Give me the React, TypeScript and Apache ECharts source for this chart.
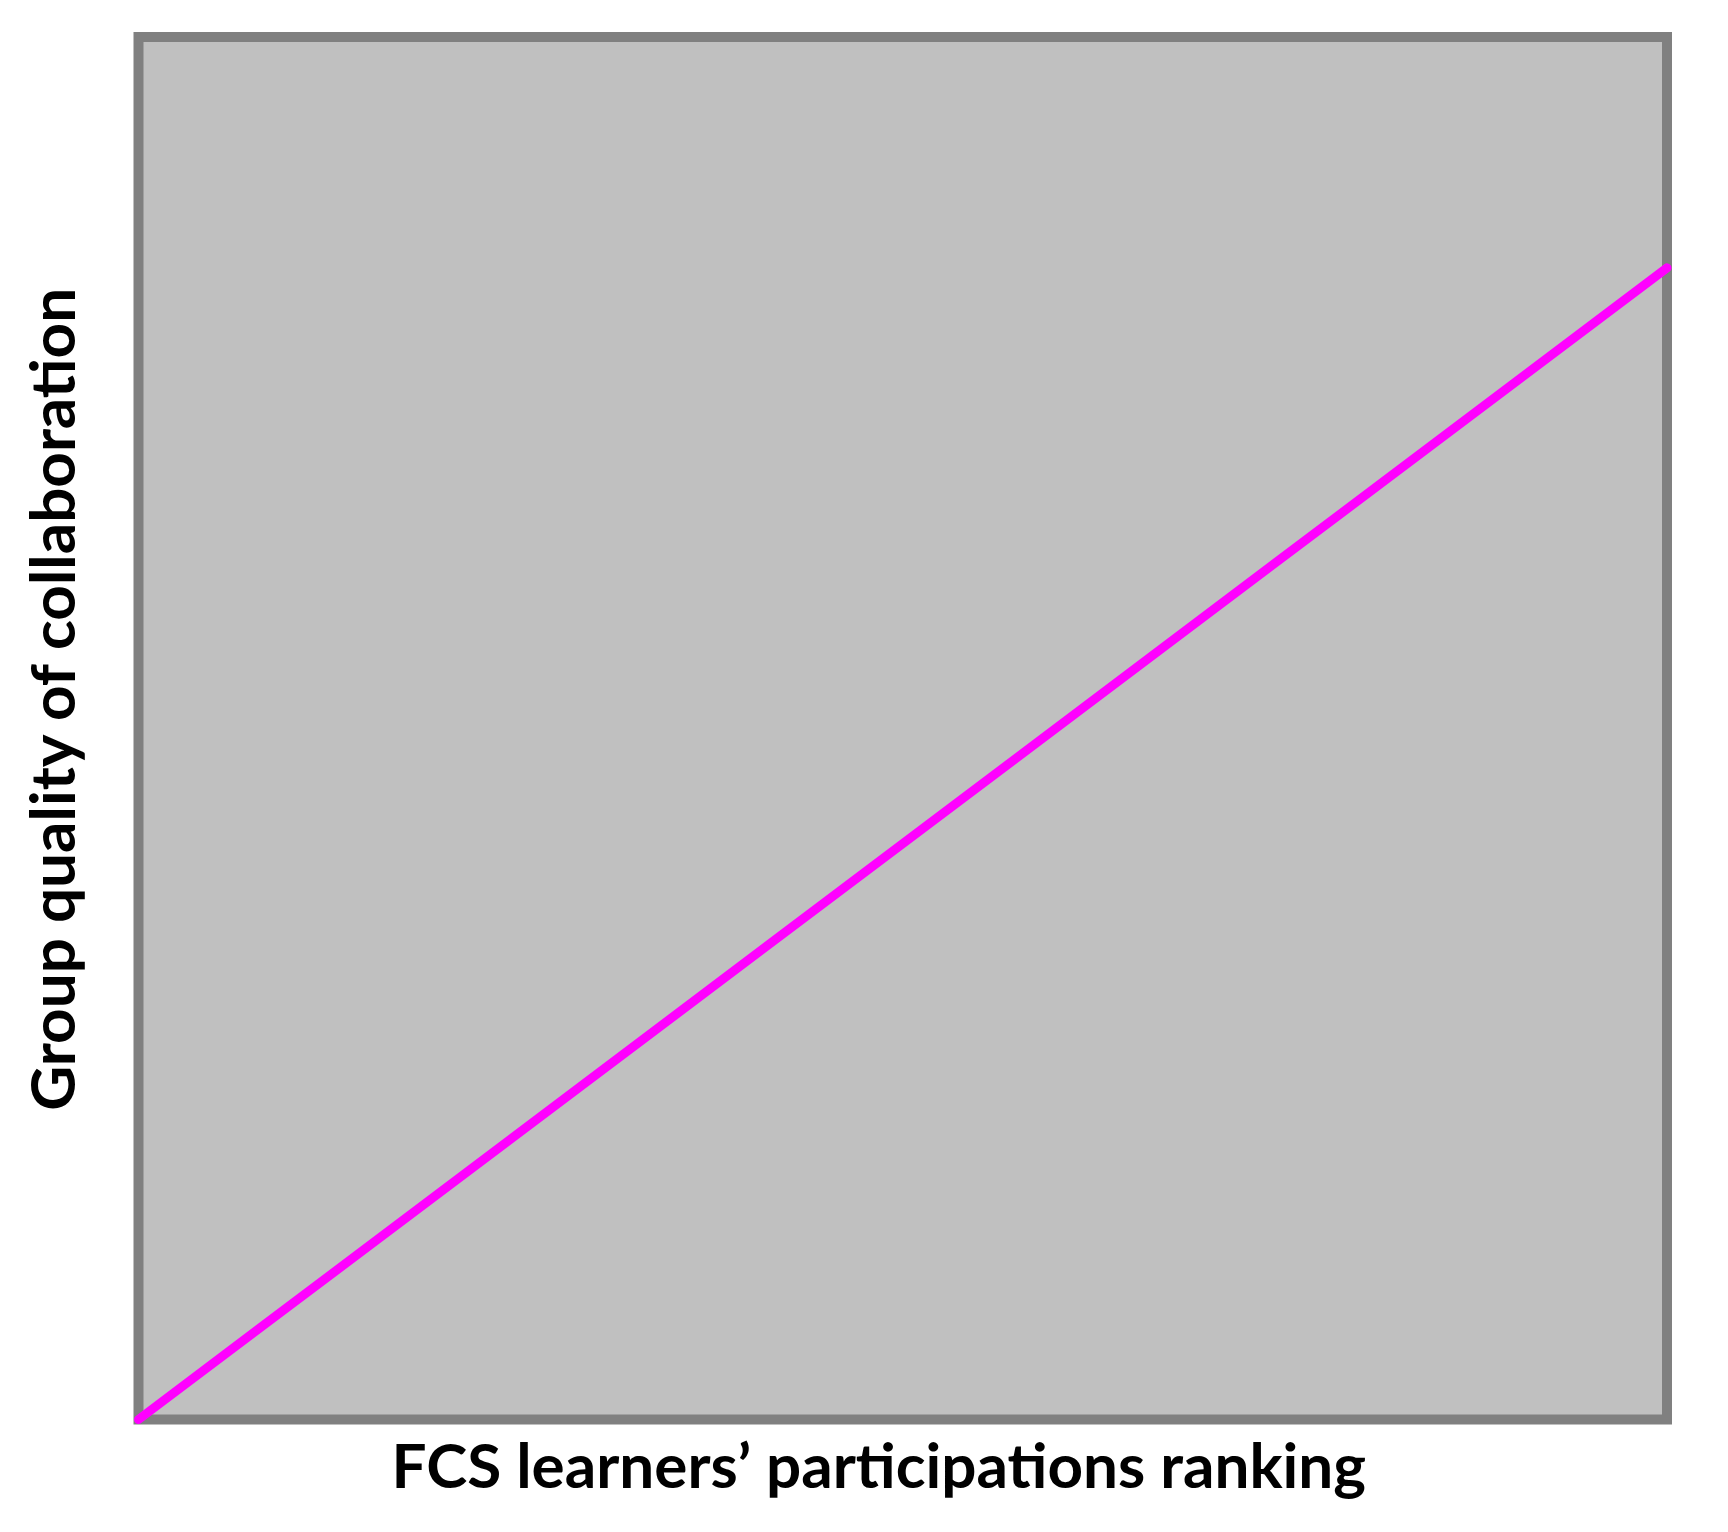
import React, { useEffect, useRef } from "react";
import * as echarts from "echarts";

const xName = "FCS learners\u2019 participations ranking";
const yName = "Group quality of collaboration";
const lineX = [0, 1];
const lineY = [0, 0.833];

export default function App() {
  const ref = useRef<HTMLDivElement>(null);
  useEffect(() => {
    const chart = echarts.init(ref.current!, null, { renderer: "svg" });
    const nameStyle = {
      fontFamily: "Lato",
      fontWeight: 700 as const,
      fontSize: 62,
      color: "#000000",
    };
    chart.setOption({
      animation: false,
      backgroundColor: "#ffffff",
      grid: {
        show: true,
        left: 138.5,
        top: 37,
        width: 1528.5,
        height: 1382.5,
        backgroundColor: "#c0c0c0",
        borderColor: "#808080",
        borderWidth: 10,
      },
      xAxis: {
        type: "value",
        min: 0,
        max: 1,
        name: xName,
        nameLocation: "middle",
        nameGap: 13,
        nameTextStyle: { ...nameStyle, padding: [0, 48, 0, 0] },
        axisLine: { show: false },
        axisTick: { show: false },
        axisLabel: { show: false },
        splitLine: { show: false },
      },
      yAxis: {
        type: "value",
        min: 0,
        max: 1,
        name: yName,
        nameLocation: "middle",
        nameGap: 57,
        nameTextStyle: { ...nameStyle, padding: [0, 0, 0, 58] },
        axisLine: { show: false },
        axisTick: { show: false },
        axisLabel: { show: false },
        splitLine: { show: false },
      },
      series: [
        {
          type: "line",
          data: lineX.map((x, i) => [x, lineY[i]]),
          symbol: "none",
          clip: false,
          lineStyle: { color: "#ff00ff", width: 9, cap: "round" },
        },
      ],
    });
    return () => chart.dispose();
  }, []);
  return (
    <div
      ref={ref}
      style={{ position: "absolute", left: 0, top: 0, width: 1728, height: 1532 }}
    />
  );
}
